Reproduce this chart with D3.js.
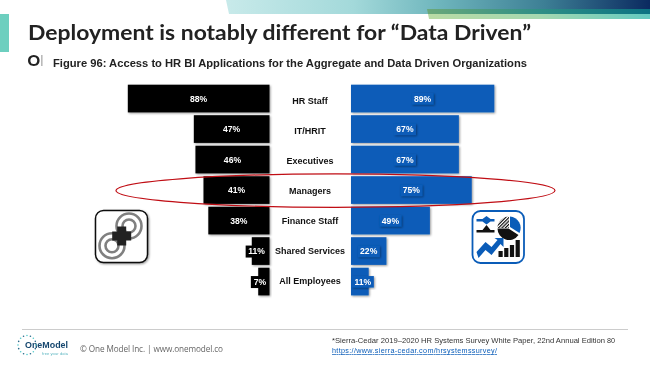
<!DOCTYPE html>
<html><head><meta charset="utf-8">
<script src="https://cdn.jsdelivr.net/npm/d3@7"></script>
<style>html,body{margin:0;padding:0;background:#fff;overflow:hidden}svg{display:block;filter:blur(0.3px)}text{font-family:"Liberation Sans",Arial,sans-serif}</style>
</head><body><div id="c"></div>
<script>
const categories=["HR Staff","IT/HRIT","Executives","Managers","Finance Staff","Shared Services","All Employees"];
const aggregateValues=[88,47,46,41,38,11,7];
const dataDrivenValues=[89,67,67,75,49,22,11];
const titleText="Deployment is notably different for “Data Driven”";
const figureTitle="Figure 96: Access to HR BI Applications for the Aggregate and Data Driven Organizations";

const W=650,H=365;
const svg=d3.select("#c").append("svg").attr("width",W).attr("height",H);
const defs=svg.append("defs");
const g1=defs.append("linearGradient").attr("id","ban").attr("x1","0").attr("x2","1").attr("y1","0").attr("y2","0");
[[0,"#c8eaea"],[0.3,"#a3d9da"],[0.5,"#6fb6bd"],[0.75,"#3d7f95"],[1,"#0b2a60"]].forEach(d=>g1.append("stop").attr("offset",d[0]).attr("stop-color",d[1]));
const g2=defs.append("linearGradient").attr("id","ban2").attr("x1","0").attr("x2","1").attr("y1","0").attr("y2","0");
[[0,"#b9dba5"],[0.5,"#a5d8b0"],[1,"#63c9c0"]].forEach(d=>g2.append("stop").attr("offset",d[0]).attr("stop-color",d[1]));
const g3=defs.append("linearGradient").attr("id","ban3").attr("x1","0").attr("x2","1").attr("y1","0").attr("y2","0");
[[0,"#6aa87a"],[0.5,"#2f8f86"],[1,"#0b7282"]].forEach(d=>g3.append("stop").attr("offset",d[0]).attr("stop-color",d[1]));
const sh=defs.append("filter").attr("id","sh").attr("x","-10%").attr("y","-10%").attr("width","125%").attr("height","130%");
sh.append("feDropShadow").attr("dx",1).attr("dy",1).attr("stdDeviation",0.8).attr("flood-color","#000").attr("flood-opacity",0.4);
const hatch=defs.append("pattern").attr("id","hatch").attr("width",2.4).attr("height",2.4).attr("patternUnits","userSpaceOnUse").attr("patternTransform","rotate(45)");
hatch.append("rect").attr("width",1.2).attr("height",2.4).attr("fill","#111");

// header
svg.append("path").attr("d","M226,0L650,0L650,14L229,14Z").attr("fill","url(#ban)");
svg.append("path").attr("d","M427,9L650,9L650,14L428,14Z").attr("fill","url(#ban3)");
svg.append("path").attr("d","M428,14L650,14L650,19L429,19Z").attr("fill","url(#ban2)");
svg.append("rect").attr("x",0).attr("y",14).attr("width",9).attr("height",38).attr("fill","#6dcfbf");
svg.append("text").attr("x",28).attr("y",40).attr("font-size",21.5).attr("font-weight",700).attr("fill","#222")
  .style("font-family","Lato,sans-serif").attr("textLength",503).attr("lengthAdjust","spacingAndGlyphs").text(titleText);
svg.append("text").attr("x",27.5).attr("y",66).attr("font-size",15.5).attr("font-weight",900).attr("fill","#222").style("font-family","Lato,sans-serif").text("O");
svg.append("rect").attr("x",41.5).attr("y",55).attr("width",0.8).attr("height",11).attr("fill","#777");
svg.append("text").attr("x",53).attr("y",67).attr("font-size",10.6).attr("font-weight",700).attr("fill","#222").attr("textLength",474).attr("lengthAdjust","spacingAndGlyphs").text(figureTitle);

// chart
const y=d3.scaleBand().domain(categories).range([84.7,295.4]).paddingInner(0.092);
const yLabel=d3.scalePoint().domain(categories).range([100.5,280.7]);
const xL=d3.scaleLinear().domain([0,100]).range([269.5,108.5]);
const xR=d3.scaleLinear().domain([0,100]).range([351,512]);

const rows=categories.map((c,i)=>({c,a:aggregateValues[i],d:dataDrivenValues[i]}));
svg.append("g").selectAll("rect").data(rows).join("rect")
  .attr("x",d=>xL(d.a)).attr("y",d=>y(d.c)).attr("width",d=>xL(0)-xL(d.a)).attr("height",y.bandwidth())
  .attr("fill","#000").attr("filter","url(#sh)");
svg.append("g").selectAll("rect").data(rows).join("rect")
  .attr("x",xR(0)).attr("y",d=>y(d.c)).attr("width",d=>xR(d.d)-xR(0)).attr("height",y.bandwidth())
  .attr("fill","#0a5cb8").attr("filter","url(#sh)");

// label boxes behind values
const cy=d=>y(d.c)+y.bandwidth()/2;
const mL=d=>(xL(d.a)+xL(0))/2-(d.a<15?4:0), mR=d=>(xR(d.d)+xR(0))/2+(d.d<15?3:0);
svg.append("g").selectAll("rect").data(rows).join("rect")
  .attr("x",d=>mL(d)-(d.a<10?9:11)).attr("y",d=>cy(d)-5.5).attr("width",d=>d.a<10?18:22).attr("height",12)
  .attr("fill","#000");
svg.append("g").selectAll("rect").data(rows).join("rect")
  .attr("x",d=>mR(d)-11).attr("y",d=>cy(d)-5.5).attr("width",22).attr("height",11.5)
  .attr("fill","#0a5cb8").attr("filter","url(#sh)");
svg.append("g").selectAll("text").data(rows).join("text")
  .attr("x",mL).attr("y",d=>cy(d)+3).attr("text-anchor","middle").attr("font-size",8.6).attr("font-weight",700).attr("fill","#fff").text(d=>d.a+"%");
svg.append("g").selectAll("text").data(rows).join("text")
  .attr("x",mR).attr("y",d=>cy(d)+3).attr("text-anchor","middle").attr("font-size",8.6).attr("font-weight",700).attr("fill","#fff").text(d=>d.d+"%");
svg.append("g").selectAll("text").data(rows).join("text")
  .attr("x",310).attr("y",d=>yLabel(d.c)+3).attr("text-anchor","middle").attr("font-size",9).attr("font-weight",700).attr("fill","#111").text(d=>d.c);

// ellipse
svg.append("ellipse").attr("cx",335.5).attr("cy",190.6).attr("rx",219.5).attr("ry",16.7).attr("fill","none").attr("stroke","#c00d14").attr("stroke-width",1.2);

// left icon
const li=svg.append("g").attr("transform","translate(95,210)");
li.append("rect").attr("x",0.5).attr("y",0.5).attr("width",52).attr("height",52).attr("rx",8).attr("fill","#fff").attr("stroke","#111").attr("stroke-width",1.5).attr("filter","url(#sh)");
[[34,16],[17,35.7]].forEach(p=>{[12.5,6.5].forEach(r=>li.append("circle").attr("cx",p[0]).attr("cy",p[1]).attr("r",r).attr("fill","none").attr("stroke","#808080").attr("stroke-width",2.6));});
li.append("path").attr("d","M22.2,16.5h9v5h5v9h-5v5h-9v-5h-5v-9h5z").attr("fill","#222");

// right icon
const ri=svg.append("g").attr("transform","translate(471.5,210)");
ri.append("rect").attr("x",1).attr("y",1).attr("width",51.5).attr("height",52).attr("rx",8).attr("fill","#fff").attr("stroke","#0a5cb8").attr("stroke-width",1.8);
ri.append("path").attr("d","M5,9h6l4,-3 4,3 4,0v2.4h-4l-4,3 -4,-3h-6z").attr("fill","#0a5cb8");
ri.append("path").attr("d","M5,20h6l4,-5 4,5h4v2.4H5z").attr("fill","#111");
ri.append("circle").attr("cx",37.5).attr("cy",18).attr("r",11.5).attr("fill","#fff");
ri.append("path").attr("d","M37.5,18V6.5A11.5,11.5 0 0 0 26,18Z").attr("fill","url(#hatch)");
ri.append("path").attr("d","M37,18.5H26A11.5,11.5 0 0 0 47,25Z").attr("fill","#111");
ri.append("path").attr("d","M38.5,17V6.5A11.5,11.5 0 0 1 48,23Z").attr("fill","#0a5cb8");
ri.append("path").attr("d","M5,42l9,-10 6,5 6,-7 -3,-2h9v9l-3,-3 -9,11 -6,-5 -7,8z").attr("fill","#0a5cb8");
ri.append("g").selectAll("rect").data([6,9,12,17]).join("rect").attr("x",(d,i)=>27+i*5.7).attr("y",d=>47-d).attr("width",4.2).attr("height",d=>d).attr("fill","#111");

// footer
svg.append("line").attr("x1",22).attr("x2",628).attr("y1",329.5).attr("y2",329.5).attr("stroke","#ccc");
svg.append("text").attr("x",25).attr("y",347.5).attr("font-size",9.5).attr("font-weight",700).attr("fill","#14466e").attr("textLength",43).attr("lengthAdjust","spacingAndGlyphs").text("OneModel");
svg.append("text").attr("x",42).attr("y",355).attr("font-size",4).attr("fill","#5ab5c0").attr("textLength",26).text("free your data");
svg.append("g").selectAll("circle").data(d3.range(16)).join("circle")
  .attr("cx",(d,i)=>27+9*Math.cos(i/16*6.28)).attr("cy",(d,i)=>345+9.5*Math.sin(i/16*6.28)).attr("r",0.8).attr("fill",(d,i)=>i%2?"#2a6a8a":"#5cc");
svg.append("text").attr("x",80).attr("y",351.7).attr("font-size",8.2).attr("fill","#666").attr("textLength",143).style("font-family","'Open Sans',sans-serif").text("© One Model Inc. | www.onemodel.co");
svg.append("text").attr("x",332).attr("y",343).attr("font-size",7.2).attr("fill","#333").attr("textLength",273).attr("lengthAdjust","spacingAndGlyphs").text("*Sierra-Cedar 2019–2020 HR Systems Survey White Paper, 22nd Annual Edition");
svg.append("text").attr("x",607).attr("y",343).attr("font-size",7.2).attr("fill","#333").text("80");
svg.append("text").attr("x",332).attr("y",353).attr("font-size",7.2).attr("fill","#0a5cb8").attr("text-decoration","underline").attr("textLength",165).text("https://www.sierra-cedar.com/hrsystemssurvey/");
</script></body></html>
